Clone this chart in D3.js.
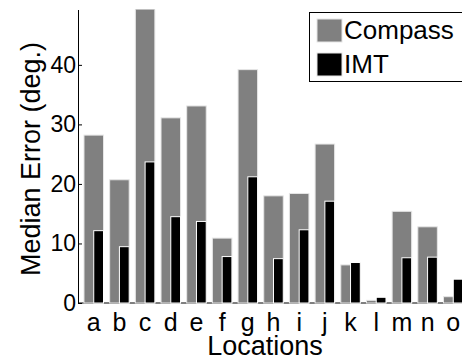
<!DOCTYPE html>
<html>
<head>
<meta charset="utf-8">
<script src="https://cdn.jsdelivr.net/npm/d3@7/dist/d3.min.js"></script>
<style>
  body { margin: 0; background: #fff; }
  svg { display: block; font-family: "Liberation Sans", Arial, Helvetica, sans-serif; }
</style>
</head>
<body>
<script>
// data
const locations = ["a","b","c","d","e","f","g","h","i","j","k","l","m","n","o"];
const compass = [28.2, 20.7, 52, 31.1, 33.1, 10.9, 39.2, 18.0, 18.4, 26.7, 6.4, 0.45, 15.4, 12.8, 1.06];
const imt = [12.15, 9.46, 23.7, 14.5, 13.7, 7.8, 21.2, 7.45, 12.3, 17.1, 6.8, 0.96, 7.6, 7.7, 4.0];
const yTicks = [0, 10, 20, 30, 40];
const seriesNames = ["Compass", "IMT"];
const seriesColors = ["#808080", "#000000"];

const width = 462, height = 358;
const axisX = 78, plotRight = 469;
const plotTop = 9.5, plotBottom = 303;

const svg = d3.select("body").append("svg")
  .attr("width", width)
  .attr("height", height);

const x = d3.scaleBand()
  .domain(locations)
  .range([axisX, plotRight])
  .paddingInner(0.24)
  .paddingOuter(0.233);

const y = d3.scaleLinear()
  .domain([0, 49.3])
  .range([plotBottom, plotTop]);

// clip bars to the axes area
svg.append("clipPath").attr("id", "plotclip")
  .append("rect")
  .attr("x", axisX).attr("y", plotTop)
  .attr("width", plotRight - axisX).attr("height", plotBottom - plotTop + 2);

// baseline at zero
svg.append("line")
  .attr("x1", axisX).attr("x2", plotRight)
  .attr("y1", y(0)).attr("y2", y(0))
  .attr("stroke", "#000").attr("stroke-width", 1);

const bars = svg.append("g").attr("clip-path", "url(#plotclip)");

bars.selectAll(".compass")
  .data(compass)
  .enter()
  .append("rect")
  .attr("class", "compass")
  .attr("x", (d, i) => x(locations[i]))
  .attr("y", d => y(d))
  .attr("width", x.bandwidth())
  .attr("height", d => y(0) - y(d))
  .attr("fill", seriesColors[0])
  .attr("stroke", "#e6e6e6")
  .attr("stroke-width", 1);

bars.selectAll(".imt")
  .data(imt)
  .enter()
  .append("rect")
  .attr("class", "imt")
  .attr("x", (d, i) => x(locations[i]) + x.bandwidth() / 2)
  .attr("y", d => y(d))
  .attr("width", x.bandwidth() / 2)
  .attr("height", d => y(0) - y(d))
  .attr("fill", seriesColors[1])
  .attr("stroke", "#fff")
  .attr("stroke-width", 1);

// y axis, ticks pointing inward
const yAxis = d3.axisLeft(y)
  .tickValues(yTicks)
  .tickSizeInner(-4)
  .tickSizeOuter(0)
  .tickPadding(2);

const gy = svg.append("g")
  .attr("transform", `translate(${axisX},0)`)
  .call(yAxis);
gy.selectAll("text").attr("font-size", 23).attr("fill", "#000").attr("font-family", null);
gy.select(".domain").attr("stroke", "#000");

// category labels
svg.selectAll(".xlab")
  .data(locations)
  .enter()
  .append("text")
  .attr("class", "xlab")
  .attr("x", d => x(d) + x.bandwidth() / 2)
  .attr("y", 331)
  .attr("text-anchor", "middle")
  .attr("font-size", 25)
  .text(d => d);

svg.append("text")
  .attr("x", 265)
  .attr("y", 355)
  .attr("text-anchor", "middle")
  .attr("font-size", 27)
  .text("Locations");

svg.append("text")
  .attr("transform", "translate(40,159) rotate(-90)")
  .attr("text-anchor", "middle")
  .attr("font-size", 27)
  .text("Median Error (deg.)");

// legend
const legend = svg.append("g");
legend.append("rect")
  .attr("x", 309.5).attr("y", 12.5)
  .attr("width", 170).attr("height", 69)
  .attr("fill", "#fff")
  .attr("stroke", "#000").attr("stroke-width", 1);

const rows = legend.selectAll(".row")
  .data(seriesNames)
  .enter()
  .append("g")
  .attr("class", "row")
  .attr("transform", (d, i) => `translate(0,${19 + i * 34})`);

rows.append("rect")
  .attr("x", 317).attr("y", 0)
  .attr("width", 25).attr("height", 23)
  .attr("fill", (d, i) => seriesColors[i])
  .attr("stroke", "#e6e6e6").attr("stroke-width", 1);

rows.append("text")
  .attr("x", 344)
  .attr("y", 20)
  .attr("font-size", 26)
  .text(d => d);
</script>
</body>
</html>
